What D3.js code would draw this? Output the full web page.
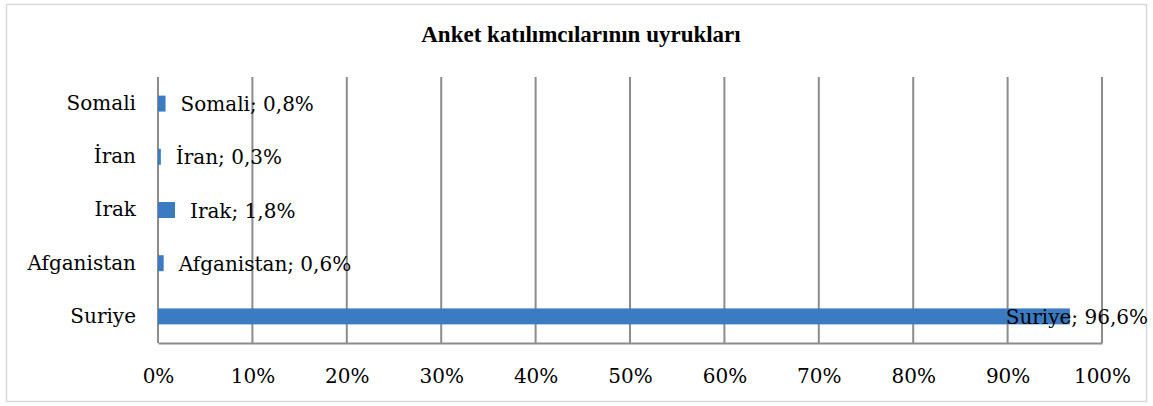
<!DOCTYPE html>
<html><head><meta charset="utf-8">
<script src="https://cdn.jsdelivr.net/npm/d3@7"></script>
<style>body{margin:0;background:#fff}svg{display:block}</style>
</head><body>
<svg id="c" width="1153" height="406"></svg>
<script>
const title = "Anket katılımcılarının uyrukları";
const categories = ["Somali", "İran", "Irak", "Afganistan", "Suriye"];
const values = [0.8, 0.3, 1.8, 0.6, 96.6];
const tickValues = [0,10,20,30,40,50,60,70,80,90,100];

const svg = d3.select("#c");
const m = {left:158, right:1102, top:77, bottom:343};
const labelFont = "'Palatino Linotype','Book Antiqua',Palatino,'DejaVu Serif','Liberation Serif',serif";

svg.append("rect").attr("x",6.5).attr("y",4.5).attr("width",1140).attr("height",397)
  .attr("fill","#fff").attr("stroke","#d9d9d9").attr("stroke-width",1.5);

svg.append("text").attr("x",581).attr("y",42).attr("text-anchor","middle")
  .attr("font-family","'Liberation Serif','Times New Roman',serif").attr("font-weight","bold")
  .attr("font-size",23).attr("fill","#000").text(title);

const x = d3.scaleLinear().domain([0,100]).range([m.left,m.right]);
const y = d3.scaleBand().domain(categories).range([m.top,m.bottom]).paddingInner(0.7).paddingOuter(0.35);

// grid
svg.append("g").selectAll("line").data(tickValues).join("line")
  .attr("x1",d=>x(d)).attr("x2",d=>x(d)).attr("y1",m.top).attr("y2",m.bottom)
  .attr("stroke","#8c8c8c").attr("stroke-width",2);

// bottom axis
const xa = svg.append("g").attr("transform",`translate(0,${m.bottom})`)
  .call(d3.axisBottom(x).tickValues(tickValues).tickFormat(d=>d+"%").tickSize(0).tickPadding(26));
xa.select(".domain").attr("stroke","#8c8c8c").attr("stroke-width",2);
xa.selectAll("text").attr("font-family",labelFont).attr("font-size",20).attr("fill","#000");

// left axis
const ya = svg.append("g").attr("transform",`translate(${m.left},0)`)
  .call(d3.axisLeft(y).tickSize(0).tickPadding(22));
ya.select(".domain").remove();
ya.selectAll("text").attr("font-family",labelFont).attr("font-size",20).attr("fill","#000");

// bars
svg.append("g").selectAll("rect").data(categories).join("rect")
  .attr("x",x(0)).attr("y",(d)=>y(d)).attr("height",y.bandwidth())
  .attr("width",(d,i)=>x(values[i])-x(0)).attr("fill","#3a7bc1");

// labels
const lbl = svg.append("g").selectAll("text").data(categories).join("text")
  .attr("y",d=>y(d)+y.bandwidth()/2).attr("dy","0.38em")
  .attr("font-family",labelFont).attr("font-size",20).attr("fill","#000")
  .text((d,i)=>d+"; "+values[i].toFixed(1).replace(".",",")+"%");
lbl.each(function(d,i){
  const w = this.getComputedTextLength();
  let px = x(values[i]) + 15;
  if (px + w > 1148) px = 1148 - w;
  d3.select(this).attr("x",px);
});
</script>
</body></html>
